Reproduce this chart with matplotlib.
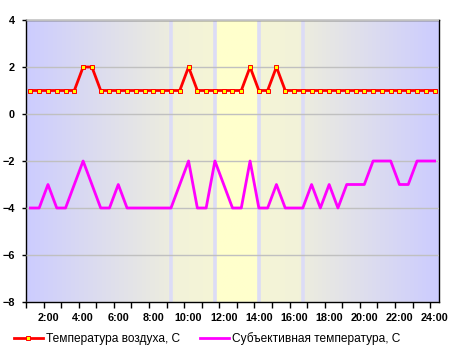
#! /usr/bin/env python3

import matplotlib
matplotlib.use('Agg')
import matplotlib.pyplot as plt
import numpy as np

# half-hour readings from 1:00 to 24:00
air_temp = [1, 1, 1, 1, 1, 1, 2, 2, 1, 1, 1, 1, 1, 1, 1, 1,
            1, 1, 2, 1, 1, 1, 1, 1, 1, 2, 1, 1, 2, 1, 1, 1,
            1, 1, 1, 1, 1, 1, 1, 1, 1, 1, 1, 1, 1, 1, 1]
feels_temp = [-4, -4, -3, -4, -4, -3, -2, -3, -4, -4, -3, -4, -4, -4, -4, -4,
              -4, -3, -2, -4, -4, -2, -3, -4, -4, -2, -4, -4, -3, -4, -4, -4,
              -3, -4, -3, -4, -3, -3, -3, -2, -2, -2, -3, -3, -2, -2, -2]
time_labels = ['2:00', '4:00', '6:00', '8:00', '10:00', '12:00',
               '14:00', '16:00', '18:00', '20:00', '22:00', '24:00']
label_idx = [2, 6, 10, 14, 18, 22, 26, 30, 34, 38, 42, 46]
daylight_idx = [16, 21, 26, 31]   # light vertical markers

# background shading: 0 = blue, 1 = yellow
shade_x = [-0.5, 15.99, 16.01, 21.0, 21.01, 25.99, 26.01, 31.0, 31.01, 46.5]
shade_t = [0.0, 0.64, 0.74, 0.8, 1.0, 1.0, 0.8, 0.74, 0.64, 0.0]


def Plot():
    fig = plt.figure(figsize=(4.52, 3.57), dpi=100)
    ax = fig.add_axes([26/452, 55/357, 413/452, 282/357])
    n = len(air_temp)
    x = np.arange(n)

    # gradient background
    xs = np.linspace(-0.5, n - 0.5, 800)
    t = np.interp(xs, shade_x, shade_t)
    blue = np.array([204, 204, 255]) / 255.0
    yellow = np.array([255, 255, 204]) / 255.0
    img = blue[None, :] * (1 - t[:, None]) + yellow[None, :] * t[:, None]
    ax.imshow(img[None, :, :], extent=(-0.5, n - 0.5, -8, 4), aspect='auto',
              interpolation='bilinear', zorder=0)
    for d in daylight_idx:
        ax.axvline(d, color='#dcdcf6', lw=2.6, zorder=1)

    ax.set_xlim(-0.5, n - 0.5)
    ax.set_ylim(-8, 4)
    ax.set_yticks(np.arange(-8, 5, 2))
    ax.yaxis.grid(True, color='#c0c0c0', lw=1)
    ax.set_axisbelow(False)
    for gl in ax.get_ygridlines():
        gl.set_zorder(1.5)

    ax.plot(x, air_temp, color='#ff0000', lw=2, marker='s', markersize=2.6,
            markerfacecolor='#ffff00', markeredgecolor='#ff0000',
            markeredgewidth=0.7, label='Температура воздуха, С', zorder=3)
    ax.plot(x, feels_temp, color='#ff00ff', lw=2,
            label='Субъективная температура, С', zorder=3)

    ax.set_xticks(np.arange(-0.5, n, 2))
    ax.set_xticklabels([])
    ax.set_xticks(label_idx, time_labels, minor=True)
    ax.tick_params(axis='x', which='major', length=4, width=1, direction='out')
    ax.tick_params(axis='x', which='minor', length=0, pad=8)
    ax.tick_params(axis='y', length=3, width=1, pad=5)
    for lab in ax.get_xticklabels(minor=True) + ax.get_yticklabels():
        lab.set_fontfamily('Liberation Sans')
        lab.set_fontweight('bold')
        lab.set_fontsize(7.8)
    for s in ax.spines.values():
        s.set_color('black')
        s.set_linewidth(1)

    fig.legend(loc='center left', bbox_to_anchor=(14/452, 1 - 339/357),
               ncol=2, frameon=False, handlelength=2.4, handletextpad=0.25,
               columnspacing=1.7, borderpad=0, borderaxespad=0, numpoints=1,
               prop={'family': 'Liberation Sans', 'size': 8.6})
    return fig


def Run():
    fig = Plot()
    fig.savefig('out.png', dpi=100)


if __name__ == "__main__":
    Run()
